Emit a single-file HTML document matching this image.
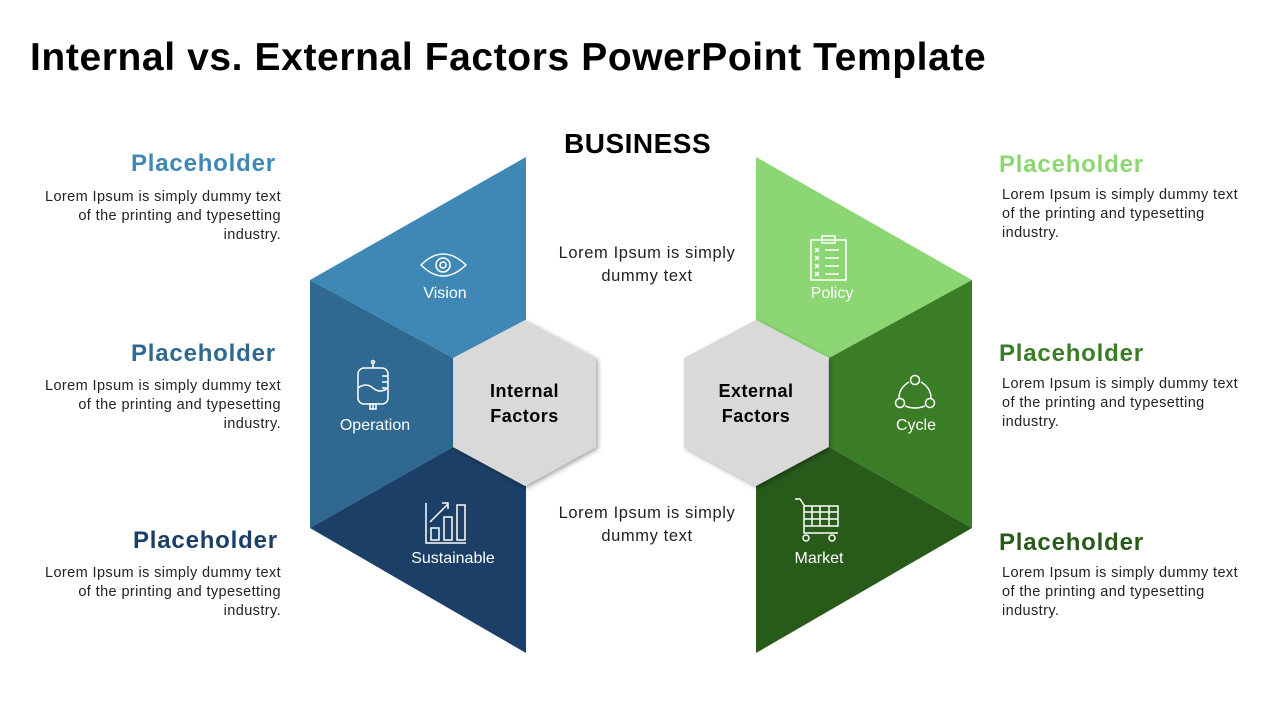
<!DOCTYPE html>
<html><head><meta charset="utf-8"><style>
body{margin:0;width:1280px;height:720px;background:#fff;position:relative;overflow:hidden;font-family:"Liberation Sans",sans-serif;}
.t{position:absolute;white-space:nowrap;}
h1{position:absolute;left:30px;top:36px;margin:0;font-size:39px;font-weight:bold;color:#000;letter-spacing:0.6px;white-space:nowrap;}
.ph{position:absolute;font-size:24px;font-weight:bold;letter-spacing:0.8px;}
.body{position:absolute;font-size:14.5px;line-height:19px;color:#222;width:260px;letter-spacing:0.4px;}
.r{text-align:right}
.lab{position:absolute;color:#fff;font-size:16px;text-align:center;width:140px;}
.c{position:absolute;font-size:16.5px;line-height:23px;color:#222;text-align:center;width:220px;letter-spacing:0.6px;}
</style></head><body>
<h1>Internal vs. External Factors PowerPoint Template</h1>
<svg width="1280" height="720" style="position:absolute;left:0;top:0">
<defs><filter id="sh" x="-20%" y="-20%" width="140%" height="140%"><feDropShadow dx="2" dy="2" stdDeviation="2.5" flood-opacity="0.35"/></filter></defs>
<polygon points="526,157 310,280 453,358 526,320" fill="#3f88b6"/>
<polygon points="310,280 453,358 453,447 310,528" fill="#2f6890"/>
<polygon points="310,528 453,447 526,486 526,653" fill="#1b3f66"/>
<polygon points="756,157 972,280 829,358 756,320" fill="#8cd673"/>
<polygon points="972,280 829,358 829,447 972,528" fill="#3b7d27"/>
<polygon points="972,528 829,447 756,486 756,653" fill="#285a1a"/>
<polygon points="525,320 596,358 596,447 525,486 453,447 453,358" fill="#d9d9d9" filter="url(#sh)"/>
<polygon points="756,320 828,358 828,447 756,486 684,447 684,358" fill="#d9d9d9" filter="url(#sh)"/>
<g fill="none" stroke="#fff" stroke-width="1.5">
<path d="M421,265 Q443,243 466,265 Q443,287 421,265Z"/><circle cx="443" cy="265" r="7"/><circle cx="443" cy="265" r="3"/>
<rect x="358" y="368" width="30" height="36" rx="6"/><path d="M373,368v-5M373,404v5M358,388q8,-6 15,0t15,0M382,376h6M382,382h6M382,388h6"/><circle cx="373" cy="362" r="1.5"/><rect x="370" y="404" width="6" height="5"/>
<path d="M426,503v40h40"/><rect x="431" y="528" width="8" height="12"/><rect x="444" y="517" width="8" height="23"/><rect x="457" y="505" width="8" height="35"/><path d="M430,522l18,-18M442,503h6v6"/>
<rect x="811" y="240" width="35" height="40"/><rect x="822" y="236" width="13" height="7"/><path d="M815,248l4,4M819,248l-4,4M815,256l4,4M819,256l-4,4M815,264l4,4M819,264l-4,4M815,272l4,4M819,272l-4,4M825,250h14M825,258h14M825,266h14M825,274h14"/>
<circle cx="915" cy="380" r="4.5"/><circle cx="900" cy="403" r="4.5"/><circle cx="930" cy="403" r="4.5"/><path d="M909,382q-10,6 -10,16M921,382q10,6 10,16M905,406q10,4 20,0"/>
<path d="M795,499h5l4,6v28h34M804,506h34v20h-34M804,512h34M804,519h34M812,506v20M820,506v20M829,506v20"/><circle cx="806" cy="538" r="3"/><circle cx="832" cy="538" r="3"/>
</g>
</svg>
<div class="t" style="left:564px;top:128px;font-size:28px;font-weight:bold;letter-spacing:0.5px;">BUSINESS</div>
<div class="c" style="left:537px;top:242px;">Lorem Ipsum is simply<br>dummy text</div>
<div class="c" style="left:537px;top:502px;">Lorem Ipsum is simply<br>dummy text</div>
<div class="lab" style="left:375px;top:285px;">Vision</div>
<div class="lab" style="left:305px;top:417px;">Operation</div>
<div class="lab" style="left:383px;top:550px;">Sustainable</div>
<div class="lab" style="left:762px;top:285px;">Policy</div>
<div class="lab" style="left:846px;top:417px;">Cycle</div>
<div class="lab" style="left:749px;top:550px;">Market</div>
<div class="t" style="left:453px;top:379px;width:143px;text-align:center;font-size:18px;font-weight:bold;line-height:25px;letter-spacing:0.5px;">Internal<br>Factors</div>
<div class="t" style="left:684px;top:379px;width:144px;text-align:center;font-size:18px;font-weight:bold;line-height:25px;letter-spacing:0.5px;">External<br>Factors</div>

<div class="ph" style="left:131px;top:150px;color:#3f88b6">Placeholder</div>
<div class="body r" style="left:21px;top:188px;">Lorem Ipsum is simply dummy text<br>of the printing and typesetting<br>industry.</div>
<div class="ph" style="left:131px;top:340px;color:#2f6890">Placeholder</div>
<div class="body r" style="left:21px;top:377px;">Lorem Ipsum is simply dummy text<br>of the printing and typesetting<br>industry.</div>
<div class="ph" style="left:133px;top:527px;color:#1b3f66">Placeholder</div>
<div class="body r" style="left:21px;top:564px;">Lorem Ipsum is simply dummy text<br>of the printing and typesetting<br>industry.</div>

<div class="ph" style="left:999px;top:151px;color:#8cd673">Placeholder</div>
<div class="body" style="left:1002px;top:186px;">Lorem Ipsum is simply dummy text<br>of the printing and typesetting<br>industry.</div>
<div class="ph" style="left:999px;top:340px;color:#3b7d27">Placeholder</div>
<div class="body" style="left:1002px;top:375px;">Lorem Ipsum is simply dummy text<br>of the printing and typesetting<br>industry.</div>
<div class="ph" style="left:999px;top:529px;color:#285a1a">Placeholder</div>
<div class="body" style="left:1002px;top:564px;">Lorem Ipsum is simply dummy text<br>of the printing and typesetting<br>industry.</div>
</body></html>
